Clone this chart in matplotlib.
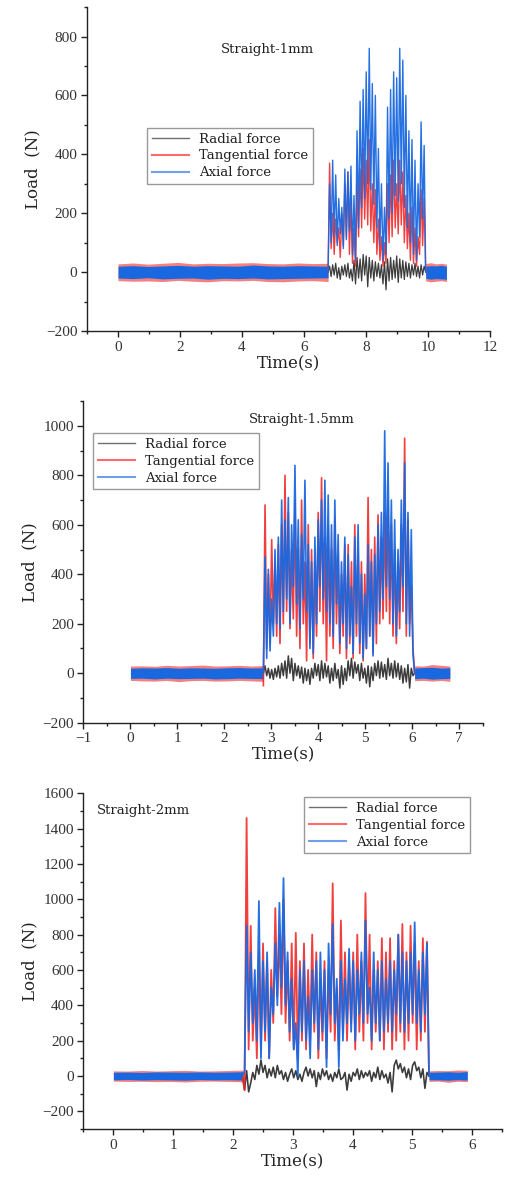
import numpy as np
import matplotlib.pyplot as plt
from matplotlib.lines import Line2D

BLACK = '#3c3c3c'
RED = '#f02a2a'
BLUE = '#1a68e0'

# ---------------- Straight-1mm ----------------
on_1, off_1, end_1 = 6.78, 9.93, 10.6
radial_1 = [0, 20, -15, 25, -10, 30, -20, 15, -25, 20, -10, 25, -15, 30, -20, 10, -30, 40, -40, 50, -20,
            45, -30, 60, -10, 55, -50, 50, -20, 40, -30, 35, -15, 30, -20, 25, -40, 35, -60, 45, -30,
            50, -25, 40, -20, 55, -35, 45, -20, 40, -25, 35, -15, 30, -20, 25, -10, 30, -15, 20, -20, 25, -10, 20, 0]
tangential_1 = [0, 370, 80, 200, 60, 180, 100, 150, 50, 200, 90, 300, 120, 340, 60, 250, 30, 150, 20, 300, 120,
                350, 150, 420, 180, 380, 160, 450, 140, 300, 100, 280, 60, 180, 40, 120, 20, 100, 30, 300, 100,
                330, 120, 380, 150, 300, 130, 380, 160, 340, 100, 260, 80, 200, 40, 220, 30, 150, 20, 120, 60, 280, 90, 250, 0]
axial_1 = [0, 300, 100, 380, 120, 330, 90, 250, 130, 220, 80, 350, 110, 340, 140, 360, 60, 260, 40, 480, 150,
           580, 220, 620, 250, 680, 300, 760, 280, 640, 230, 600, 150, 420, 90, 300, 40, 220, 60, 560, 180,
           620, 200, 680, 260, 660, 240, 760, 300, 720, 220, 600, 150, 480, 100, 450, 60, 380, 40, 300, 120, 510, 180, 430, 0]
# envelope of the dense idle noise (before / after cutting)
pre_blue_hi_1 = [20, 22, 19, 21, 23, 20, 22, 21, 20, 24, 21, 20, 22, 21, 20]
pre_blue_lo_1 = [-20, -22, -19, -23, -21, -20, -24, -21, -22, -20, -23, -22, -21, -20, -19]
pre_red_hi_1 = [28, 31, 27, 30, 33, 28, 30, 29, 31, 32, 29, 28, 31, 29, 30]
pre_red_lo_1 = [-29, -31, -30, -32, -28, -31, -33, -29, -30, -28, -32, -33, -30, -29, -32]
post_blue_hi_1 = [20, 22, 21, 23, 20]
post_blue_lo_1 = [-21, -24, -22, -23, -24]
post_red_hi_1 = [29, 32, 28, 30, 27]
post_red_lo_1 = [-30, -33, -31, -29, -32]

# ---------------- Straight-1.5mm ----------------
on_2, off_2, end_2 = 2.83, 6.05, 6.8
radial_2 = [0,
            30, -10, 20, -20, 15, -25, 20, -15, 30, -20,
            40, -10, 50, -20, 70, 0, 60, -30, 40, -10,
            30, -20, 25, -40, 20, -30, 15, -45, 20, -20,
            40, -10, 35, -30, 50, -20, 40, -15, 30, -40,
            20, -30, 40, -20, 15, -60, 30, -45, 20, -30,
            50, -10, 60, -20, 45, 0, 35, -30, 40, -20,
            20, -40, 30, -55, 25, -30, 40, -10, 50, -20,
            45, -15, 35, -25, 60, -10, 40, -20, 50, -15,
            40, -25, 30, -40, 20, -35, 35, -60, 20, -10, 0]
tangential_2 = [-50,
                680, 100, 400, 120, 540, 200, 450, 150, 520, 120,
                600, 200, 800, 250, 650, 180, 500, 220, 700, 150,
                500, 100, 700, 200, 450, 50, 600, 120, 500, 60,
                450, 150, 650, 250, 790, 200, 550, 50, 600, 150,
                500, 100, 620, 200, 480, 80, 400, 150, 520, 60,
                520, 120, 450, 60, 600, 150, 500, 80, 450, 50,
                400, 100, 710, 150, 500, 80, 550, 120, 640, 200,
                550, 220, 650, 250, 700, 200, 600, 150, 500, 120,
                450, 180, 600, 250, 950, 150, 620, 200, 350, 100, 0]
axial_2 = [0,
           470, 60, 420, 90, 300, 150, 500, 200, 550, 180,
           700, 250, 620, 300, 710, 200, 600, 350, 840, 280,
           620, 180, 560, 300, 780, 250, 520, 100, 450, 80,
           550, 200, 620, 350, 700, 300, 780, 250, 720, 200,
           600, 150, 700, 280, 560, 120, 450, 200, 550, 100,
           480, 150, 350, 80, 550, 200, 600, 120, 400, 60,
           320, 100, 520, 150, 450, 70, 480, 200, 600, 250,
           650, 300, 980, 350, 850, 300, 700, 200, 620, 150,
           500, 250, 700, 350, 850, 200, 650, 150, 580, 80, 0]
pre_blue_hi_2 = [20, 22, 21, 23, 20, 22, 21, 20, 22, 23, 21, 22]
pre_blue_lo_2 = [-21, -20, -23, -20, -22, -21, -20, -23, -22, -20, -21, -22]
pre_red_hi_2 = [29, 30, 28, 32, 29, 31, 33, 29, 30, 32, 29, 31]
pre_red_lo_2 = [-29, -31, -32, -29, -34, -30, -29, -32, -31, -29, -31, -33]
post_blue_hi_2 = [21, 23, 24, 21, 22]
post_blue_lo_2 = [-22, -20, -24, -22, -21]
post_red_hi_2 = [30, 29, 35, 32, 29]
post_red_lo_2 = [-30, -29, -32, -29, -33]

# ---------------- Straight-2mm ----------------
on_3, off_3, end_3 = 2.16, 5.28, 5.92
radial_3 = [0,
            -80, 30, -90, -40, 20, -20, 60, 10, 90, 20,
            60, -10, 40, 0, 50, -10, 60, 10, 30, -20,
            20, -30, 10, 40, -10, 30, -20, 10, -30, 20,
            50, 0, 40, -10, 30, -60, 20, -20, 40, 0,
            30, -20, 10, -30, 20, -10, 40, -20, -10, 20,
            -80, 10, -30, 20, 0, 40, -20, 30, -10, 20,
            0, 30, -30, 20, -10, 50, -20, 30, -10, 10,
            -40, 20, -90, 60, 90, 40, 70, 20, 50, -10,
            40, -20, 60, 80, 30, 50, -10, 40, -70, 20, 0]
tangential_3 = [0,
                -80, 1460, 150, 850, 200, 500, 100, 700, 150, 750,
                200, 650, 100, 600, 300, 950, 450, 800, 350, 1000,
                300, 650, 200, 750, 150, 810, 100, 650, 200, 750,
                150, 600, 200, 800, 250, 700, 100, 550, 200, 650,
                100, 600, 250, 1090, 200, 500, 150, 880, 250, 700,
                200, 650, 300, 700, 150, 800, 250, 650, 200, 1035,
                300, 800, 150, 600, 250, 650, 200, 780, 150, 700,
                250, 780, 150, 650, 200, 800, 250, 860, 150, 700,
                200, 850, 300, 750, 150, 650, 200, 780, 250, 760, 0]
axial_3 = [0,
           30, 850, 250, 700, 300, 600, 200, 990, 100, 650,
           250, 700, 100, 500, 350, 750, 400, 980, 500, 1120,
           400, 700, 250, 550, 150, 300, 0, 600, 250, 650,
           200, 450, 100, 600, 300, 650, 150, 700, 250, 600,
           50, 750, 350, 860, 300, 550, 50, 650, 200, 550,
           300, 720, 250, 650, 200, 600, 350, 700, 300, 880,
           350, 500, 200, 700, 300, 600, 200, 650, 250, 550,
           300, 650, 250, 600, 350, 800, 300, 700, 250, 650,
           300, 700, 350, 870, 300, 600, 250, 700, 350, 750, 0]
pre_blue_hi_3 = [21, 22, 20, 23, 22, 21, 23, 21, 22, 24]
pre_blue_lo_3 = [-22, -20, -23, -21, -22, -24, -20, -22, -21, -23]
pre_red_hi_3 = [29, 28, 31, 28, 30, 32, 28, 29, 31, 33]
pre_red_lo_3 = [-29, -31, -30, -32, -31, -34, -30, -29, -31, -33]
post_blue_hi_3 = [21, 22, 24, 21, 25]
post_blue_lo_3 = [-21, -22, -24, -21, -23]
post_red_hi_3 = [29, 31, 30, 34, 32]
post_red_lo_3 = [-31, -29, -36, -30, -32]

TEXT_FONT = ['DejaVu Serif']
TICK_FONT = ['Liberation Serif']
plt.rcParams['font.family'] = TEXT_FONT


def band(ax, t0, t1, hi, lo, color, z, alpha=1.0):
    t = np.linspace(t0, t1, len(hi))
    ax.fill_between(t, lo, hi, color=color, lw=0, zorder=z, alpha=alpha)


def draw_panel(ax, on, off, end, radial, tang, axial, bands, xlim, ylim, xmaj, xminor, ymaj, lw):
    pre_bh, pre_bl, pre_rh, pre_rl, post_bh, post_bl, post_rh, post_rl = bands
    # idle noise envelopes
    band(ax, 0, on, pre_rh, pre_rl, RED, 1, 0.6)
    band(ax, off, end, post_rh, post_rl, RED, 1, 0.6)
    band(ax, 0, on, pre_bh, pre_bl, BLUE, 2)
    band(ax, off, end, post_bh, post_bl, BLUE, 2)
    # cutting
    ax.plot(np.linspace(on, off, len(radial)), radial, color=BLACK, lw=lw * 0.9, zorder=3)
    ax.plot(np.linspace(on, off, len(tang)), tang, color=RED, lw=lw, alpha=0.9, zorder=4)
    ax.plot(np.linspace(on, off, len(axial)), axial, color=BLUE, lw=lw, alpha=0.95, zorder=5)

    ax.set_xlim(*xlim)
    ax.set_ylim(*ylim)
    ax.set_xticks(xmaj)
    ax.set_yticks(ymaj)
    ax.set_xticks(xminor, minor=True)
    ax.set_yticks(np.arange(ylim[0], ylim[1] + 1, 100), minor=True)
    for s in ['top', 'right']:
        ax.spines[s].set_visible(False)
    for s in ['left', 'bottom']:
        ax.spines[s].set_linewidth(1.0)
        ax.spines[s].set_color('#222222')
    ax.tick_params(which='major', direction='out', length=4, width=1, labelsize=11,
                   labelcolor='#333333', color='#222222', pad=3)
    ax.tick_params(which='minor', direction='out', length=2.5, width=1, color='#222222')
    for lab in ax.get_xticklabels() + ax.get_yticklabels():
        lab.set_family(TICK_FONT)
    ax.set_xlabel('Time(s)', fontsize=12, labelpad=1, color='#222222')
    ax.set_ylabel('Load  (N)', fontsize=12, labelpad=3, color='#222222')


def legend(ax, anchor):
    handles = [Line2D([], [], color='#707070', lw=1),
               Line2D([], [], color='#ff6b6b', lw=1.5),
               Line2D([], [], color='#6f9fe8', lw=1.5)]
    lg = ax.legend(handles, ['Radial force', 'Tangential force', 'Axial force'],
                   loc='upper left', bbox_to_anchor=anchor, fontsize=9.5, frameon=True,
                   fancybox=False, edgecolor='#808080', handlelength=2.8, handletextpad=0.8,
                   labelspacing=0.3, borderpad=0.35, borderaxespad=0)
    lg.get_frame().set_linewidth(1.0)
    for t in lg.get_texts():
        t.set_color('#222222')


fig = plt.figure(figsize=(5.06, 11.78), dpi=100)

ax1 = fig.add_axes([0.172, 0.719, 0.796, 0.275])
draw_panel(ax1, on_1, off_1, end_1, radial_1, tangential_1, axial_1,
           (pre_blue_hi_1, pre_blue_lo_1, pre_red_hi_1, pre_red_lo_1,
            post_blue_hi_1, post_blue_lo_1, post_red_hi_1, post_red_lo_1),
           (-1, 12), (-200, 900), np.arange(0, 13, 2), np.arange(-1, 12.01, 1),
           np.arange(-200, 801, 200), 1.0)
ax1.text(4.83, 755, 'Straight-1mm', fontsize=9.5, ha='center', va='center', color='#222222')
legend(ax1, (0.149, 0.627))

ax2 = fig.add_axes([0.165, 0.3865, 0.789, 0.273])
draw_panel(ax2, on_2, off_2, end_2, radial_2, tangential_2, axial_2,
           (pre_blue_hi_2, pre_blue_lo_2, pre_red_hi_2, pre_red_lo_2,
            post_blue_hi_2, post_blue_lo_2, post_red_hi_2, post_red_lo_2),
           (-1, 7.5), (-200, 1100), np.arange(-1, 8, 1), np.arange(-1, 7.51, 0.5),
           np.arange(-200, 1001, 200), 1.2)
ax2.text(3.65, 1024, 'Straight-1.5mm', fontsize=9.5, ha='center', va='center', color='#222222')
legend(ax2, (0.024, 0.90))

ax3 = fig.add_axes([0.165, 0.0416, 0.827, 0.285])
draw_panel(ax3, on_3, off_3, end_3, radial_3, tangential_3, axial_3,
           (pre_blue_hi_3, pre_blue_lo_3, pre_red_hi_3, pre_red_lo_3,
            post_blue_hi_3, post_blue_lo_3, post_red_hi_3, post_red_lo_3),
           (-0.5, 6.5), (-300, 1600), np.arange(0, 7, 1), np.arange(-0.5, 6.51, 0.5),
           np.arange(-200, 1601, 200), 1.3)
ax3.text(-0.27, 1500, 'Straight-2mm', fontsize=9.5, ha='left', va='center', color='#222222')
legend(ax3, (0.527, 0.988))

fig.savefig('out.png', dpi=100)
